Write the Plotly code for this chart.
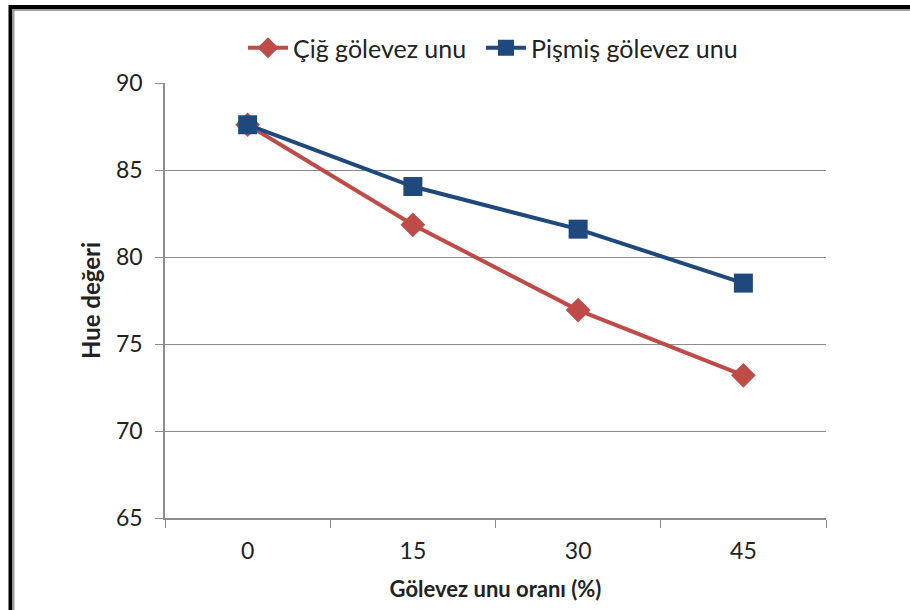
import plotly.graph_objects as go

# Gölevez unu oranı (%) categories and Hue values
oranlar = ["0", "15", "30", "45"]
cig_hue = [87.6, 81.85, 76.95, 73.2]
pismis_hue = [87.6, 84.05, 81.6, 78.5]
y_ticks = [65, 70, 75, 80, 85, 90]

RED = "#BE4B48"
BLUE = "#1F497D"
FONT = "Lato, 'Open Sans', sans-serif"

W, H = 910, 610
L, R, T, B = 165, 84, 83, 92
PW, PH = W - L - R, H - T - B


def px(x):
    return (x - L) / PW


def py(y):
    return (H - B - y) / PH


fig = go.Figure()
fig.add_trace(go.Scatter(
    x=oranlar, y=cig_hue, name="Çiğ gölevez unu", mode="lines+markers",
    line=dict(color=RED, width=4),
    marker=dict(symbol="diamond", size=19, color=RED),
    legend="legend",
))
fig.add_trace(go.Scatter(
    x=oranlar, y=pismis_hue, name="Pişmiş gölevez unu", mode="lines+markers",
    line=dict(color=BLUE, width=4),
    marker=dict(symbol="square", size=19, color=BLUE),
    legend="legend2",
))

# outer frame: rectangles whose right and bottom sides fall outside the canvas
shapes = [
    dict(type="rect", xref="paper", yref="paper",
         x0=px(10.5), x1=px(990), y0=py(7), y1=py(690),
         line=dict(color="black", width=4), fillcolor="rgba(0,0,0,0)", layer="above"),
    dict(type="rect", xref="paper", yref="paper",
         x0=px(13.5), x1=px(990), y0=py(10), y1=py(690),
         line=dict(color="#A0A0A0", width=2), fillcolor="rgba(0,0,0,0)", layer="above"),
]

legend_common = dict(orientation="h", yanchor="middle", y=py(48), xanchor="left",
                     font=dict(size=25), itemwidth=40, bgcolor="rgba(0,0,0,0)")

fig.update_layout(
    width=W, height=H,
    margin=dict(l=L, r=R, t=T, b=B),
    paper_bgcolor="white", plot_bgcolor="white",
    font=dict(family=FONT, size=23, color="#222222"),
    showlegend=True,
    legend=dict(x=px(243), **legend_common),
    legend2=dict(x=px(481), **legend_common),
    shapes=shapes,
    xaxis=dict(
        type="category", range=[-0.5, 3.5],
        showline=True, linecolor="#8C8C8C", linewidth=1.5,
        ticks="outside", tickson="boundaries", ticklen=8, tickcolor="#8C8C8C",
        ticklabelstandoff=12,
        showgrid=False, zeroline=False,
        tickfont=dict(size=23),
        title=dict(text="<b>Gölevez unu oranı (%)</b>", font=dict(size=22), standoff=18),
    ),
    yaxis=dict(
        range=[65, 90], tickvals=y_ticks,
        showline=True, linecolor="#8C8C8C", linewidth=1.5,
        ticks="outside", ticklen=8, tickcolor="#8C8C8C",
        ticklabelstandoff=8,
        showgrid=True, gridcolor="#8C8C8C", gridwidth=1.3,
        zeroline=False,
        tickfont=dict(size=23),
        title=dict(text="<b>Hue değeri</b>", font=dict(size=24), standoff=9),
    ),
)

# keep the page from showing scrollbars around the fixed-size figure
no_scroll = (
    "document.documentElement.style.overflow='hidden';"
    "document.body.style.overflow='hidden';"
    "document.body.style.margin='0';"
)

fig.write_html("out.html", post_script=no_scroll)
